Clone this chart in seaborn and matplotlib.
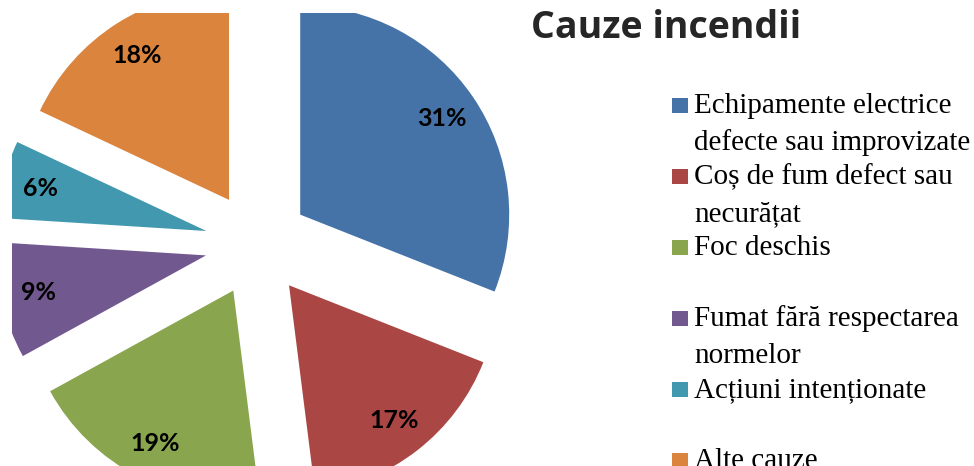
import matplotlib
matplotlib.use("Agg")
import matplotlib.pyplot as plt
from matplotlib.patches import Rectangle
import seaborn as sns

# ── Data ─────────────────────────────────────────────────────────
title = "Cauze incendii"
categories = [
    "Echipamente electrice\ndefecte sau improvizate",
    "Coș de fum defect sau\nnecurățat",
    "Foc deschis",
    "Fumat fără respectarea\nnormelor",
    "Acțiuni intenționate",
    "Alte cauze",
]
shares = [31, 17, 19, 9, 6, 18]
colors = ["#4572A7", "#AA4643", "#89A54E", "#71588F", "#4198AF", "#DB843D"]

sns.set_theme(style="white")
palette = sns.color_palette(colors)

W, H = 974, 466
fig = plt.figure(figsize=(W / 100, H / 100), dpi=100)

# ── Pie (exploded, clipped by its axes like the original) ─────────
R = 209.0                     # pie radius in pixels
cx, cy = 257.0, 244.0         # pie centre in pixels (from top-left)
left, top, right = 12, 13, 560
ax = fig.add_axes([left / W, 0, (right - left) / W, (H - top) / H])
wedges, texts, autotexts = ax.pie(
    shares,
    colors=palette,
    explode=[0.25] * len(shares),
    startangle=90,
    counterclock=False,
    autopct="%1.0f%%",
    pctdistance=0.82,
    wedgeprops={"linewidth": 0},
    textprops={"fontsize": 18, "fontweight": "bold", "family": "Lato", "color": "black"},
)
for w in wedges:
    w.set_clip_on(True)
    w.set_clip_path(ax.patch)
ax.set_aspect("auto")
ax.set_xlim((left - cx) / R, (right - cx) / R)
ax.set_ylim(-(H - cy) / R, (cy - top) / R)
ax.axis("off")

# ── Title ────────────────────────────────────────────────────────
fig.text(666 / W, 1 - 38 / H, title, ha="center", va="baseline",
         fontsize=27, fontweight="bold", family="Open Sans")

# ── Legend (Excel-style: marker aligned with first line) ─────────
lax = fig.add_axes([0, 0, 1, 1])
lax.set_xlim(0, W)
lax.set_ylim(H, 0)
lax.axis("off")
lax.patch.set_alpha(0)
y0, step, line_h = 105, 71, 37
for i, (label, col) in enumerate(zip(categories, palette)):
    ym = y0 + i * step
    lax.add_patch(Rectangle((672, ym - 7.5), 16, 15, color=col, lw=0))
    for k, line in enumerate(label.split("\n")):
        lax.text(694, ym + 8 + k * line_h, line, ha="left", va="baseline",
                 fontsize=21, family="Liberation Serif", color="black")

fig.savefig("out.png", dpi=100)
